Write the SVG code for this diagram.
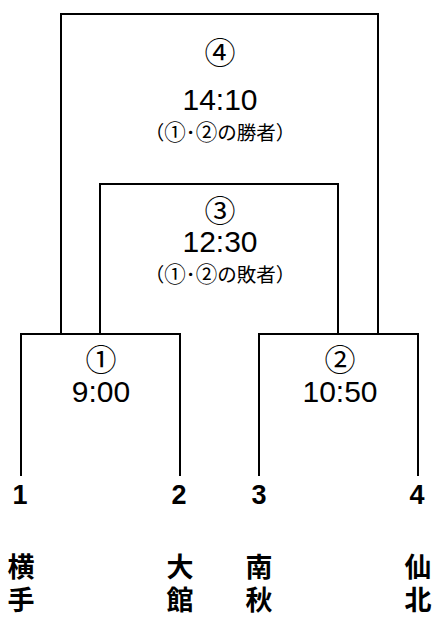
<svg xmlns="http://www.w3.org/2000/svg" width="434" height="618" viewBox="0 0 434 618">
<style>
.ln{fill:none;stroke:#000;stroke-width:2;stroke-linecap:square}
.c{font-family:"Noto Sans CJK JP","Liberation Sans",sans-serif;font-size:31px;text-anchor:middle;dominant-baseline:central;fill:#000}
.t{font-family:"Liberation Sans",Arial,sans-serif;font-size:30px;text-anchor:middle;fill:#000}
.n{font-family:"Noto Sans CJK JP",sans-serif;font-size:19.5px;text-anchor:middle;fill:#000}
.n .d{font-size:21.5px}
.s{font-family:"Liberation Sans",Arial,sans-serif;font-size:27px;font-weight:bold;text-anchor:middle;fill:#000}
.k{font-family:"Noto Sans CJK JP",sans-serif;font-size:27px;font-weight:bold;fill:#000;writing-mode:vertical-rl;letter-spacing:6px}
</style>
<rect width="434" height="618" fill="#fff"/>
<g id="connectors">
<polyline class="ln" points="61,333 61,14 378,14 378,333"/>
<polyline class="ln" points="100,333 100,184 338,184 338,333"/>
<polyline class="ln" points="21,475 21,334 180,334 180,475"/>
<polyline class="ln" points="259,475 259,334 418,334 418,475"/>
</g>
<g id="match4">
<text class="c" x="220" y="50">④</text>
<text class="t" x="220" y="110">14:10</text>
<text class="n" x="220" y="140">（<tspan class="d">①</tspan>･<tspan class="d">②</tspan>の勝者）</text>
</g>
<g id="match3">
<text class="c" x="220" y="208">③</text>
<text class="t" x="220" y="252">12:30</text>
<text class="n" x="220" y="282">（<tspan class="d">①</tspan>･<tspan class="d">②</tspan>の敗者）</text>
</g>
<g id="match1">
<text class="c" x="101" y="357">①</text>
<text class="t" x="101" y="402">9:00</text>
</g>
<g id="match2">
<text class="c" x="340" y="357">②</text>
<text class="t" x="340" y="402">10:50</text>
</g>
<g id="seeds">
<text class="s" x="20" y="504">1</text>
<text class="s" x="179" y="504">2</text>
<text class="s" x="259" y="504">3</text>
<text class="s" x="417" y="504">4</text>
</g>
<g id="team1"><text class="k" x="21" y="553">横手</text></g>
<g id="team2"><text class="k" x="180" y="553">大館</text></g>
<g id="team3"><text class="k" x="259" y="553">南秋</text></g>
<g id="team4"><text class="k" x="418" y="553">仙北</text></g>
</svg>
